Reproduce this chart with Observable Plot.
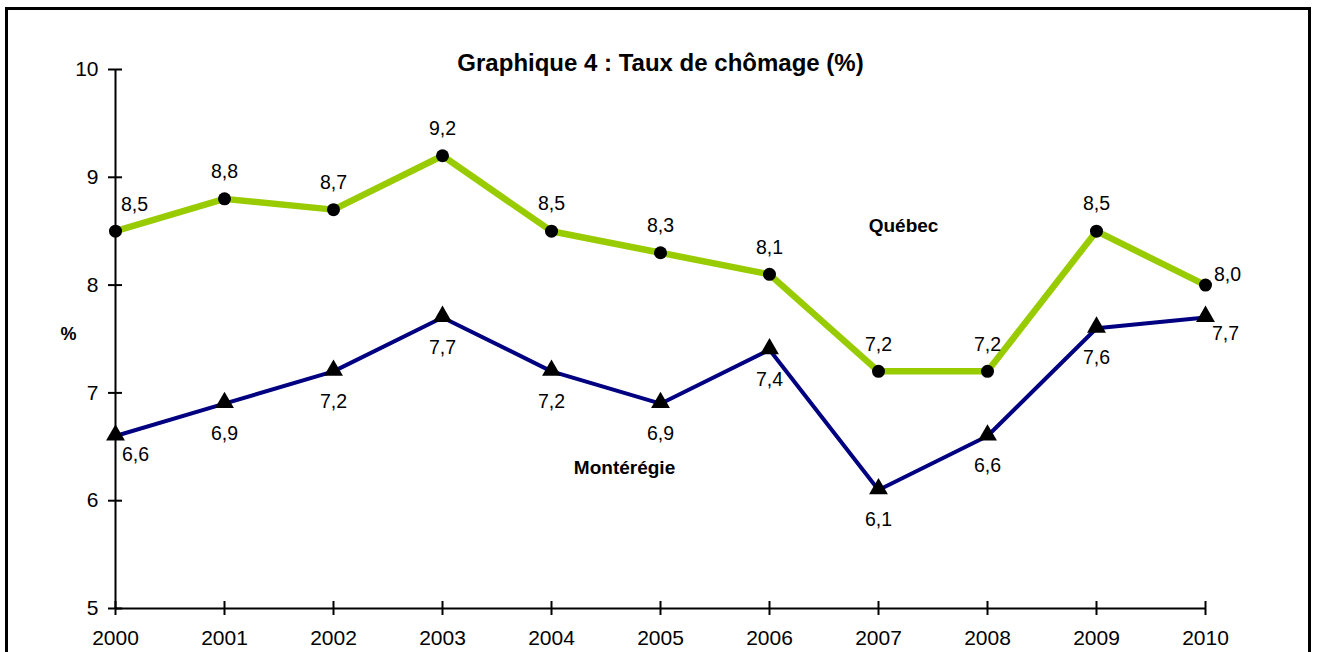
<!DOCTYPE html>
<html>
<head>
<meta charset="utf-8">
<script src="https://cdn.jsdelivr.net/npm/d3@7"></script>
<script src="https://cdn.jsdelivr.net/npm/@observablehq/plot@0.6"></script>
<style>
  html, body { margin: 0; padding: 0; background: #fff; }
  #wrap { position: relative; width: 1318px; height: 652px; overflow: hidden; }
  #border { position: absolute; left: 5px; top: 7px; width: 1306px; height: 700px; border: 3px solid #000; box-sizing: border-box; }
  #chart { position: absolute; left: 0; top: 0; }
  svg { font-family: "Liberation Sans", Arial, sans-serif; }
</style>
</head>
<body>
<div id="wrap">
  <div id="border"></div>
  <div id="chart"></div>
</div>
<script>
const years = [2000, 2001, 2002, 2003, 2004, 2005, 2006, 2007, 2008, 2009, 2010];
const quebec = [8.5, 8.8, 8.7, 9.2, 8.5, 8.3, 8.1, 7.2, 7.2, 8.5, 8.0];
const monteregie = [6.6, 6.9, 7.2, 7.7, 7.2, 6.9, 7.4, 6.1, 6.6, 7.6, 7.7];
const yTicks = [5, 6, 7, 8, 9, 10];
const title = "Graphique 4 : Taux de chômage (%)";
const seriesNames = ["Québec", "Montérégie"];
const seriesNameX = [2007.23, 2004.67];
const seriesNameY = [8.55, 6.3];

const fmt = v => v.toFixed(1).replace(".", ",");
const q = years.map((y, i) => ({year: y, v: quebec[i], i}));
const m = years.map((y, i) => ({year: y, v: monteregie[i], i}));
const last = years.length - 1;
const qMid = q.filter(d => d.i !== 0 && d.i !== last);
const qFirst = q.filter(d => d.i === 0);
const qLast = q.filter(d => d.i === last);
const mMid = m.filter(d => d.i !== 0 && d.i !== last);
const mFirst = m.filter(d => d.i === 0);
const mLast = m.filter(d => d.i === last);
const names = seriesNames.map((n, i) => ({n, x: seriesNameX[i], y: seriesNameY[i]}));

const FS = 19.5;
const plot = Plot.plot({
  width: 1318,
  height: 652,
  marginLeft: 115,
  marginRight: 113,
  marginTop: 69,
  marginBottom: 44,
  style: {fontFamily: "'Liberation Sans', Arial, sans-serif", background: "transparent"},
  x: {domain: [2000, 2010]},
  y: {domain: [5, 10]},
  marks: [
    Plot.ruleX([2000], {stroke: "#000", strokeWidth: 2}),
    Plot.ruleY([5], {stroke: "#000", strokeWidth: 2}),
    Plot.axisY({ticks: yTicks, tickSize: 14, dx: 7, tickPadding: 10, fontSize: 21, label: null, stroke: "#000", strokeWidth: 2, fill: "#000", tickFormat: d => String(d)}),
    Plot.axisX({ticks: years, tickSize: 14, dy: -7, tickPadding: 15, fontSize: 21, label: null, stroke: "#000", strokeWidth: 2, fill: "#000", tickFormat: d => String(d)}),
    Plot.lineY(q, {x: "year", y: "v", stroke: "#99CC00", strokeWidth: 6.5}),
    Plot.lineY(m, {x: "year", y: "v", stroke: "#000080", strokeWidth: 4}),
    Plot.dot(q, {x: "year", y: "v", r: 6.5, fill: "#000", stroke: "none"}),
    Plot.dot(m, {x: "year", y: "v", r: 7, symbol: "triangle", fill: "#000", stroke: "none", dy: -1}),
    Plot.text(qMid, {x: "year", y: "v", text: d => fmt(d.v), dy: -27, fontSize: FS, fill: "#000"}),
    Plot.text(qFirst, {x: "year", y: "v", text: d => fmt(d.v), dx: 19, dy: -26, fontSize: FS, fill: "#000"}),
    Plot.text(qLast, {x: "year", y: "v", text: d => fmt(d.v), dx: 22, dy: -10, fontSize: FS, fill: "#000"}),
    Plot.text(mMid, {x: "year", y: "v", text: d => fmt(d.v), dy: 30, fontSize: FS, fill: "#000"}),
    Plot.text(mFirst, {x: "year", y: "v", text: d => fmt(d.v), dx: 20, dy: 19, fontSize: FS, fill: "#000"}),
    Plot.text(mLast, {x: "year", y: "v", text: d => fmt(d.v), dx: 20, dy: 16, fontSize: FS, fill: "#000"}),
    Plot.text(names, {x: "x", y: "y", text: "n", fontSize: 19, fontWeight: "bold", fill: "#000"}),
    Plot.text(["%"], {frameAnchor: "left", dx: -55, dy: -5, fontSize: 18, fontWeight: "bold", fill: "#000"}),
    Plot.text([title], {frameAnchor: "top", dy: -16, fontSize: 24, fontWeight: "bold", fill: "#000"})
  ]
});
document.getElementById("chart").appendChild(plot);
</script>
</body>
</html>
